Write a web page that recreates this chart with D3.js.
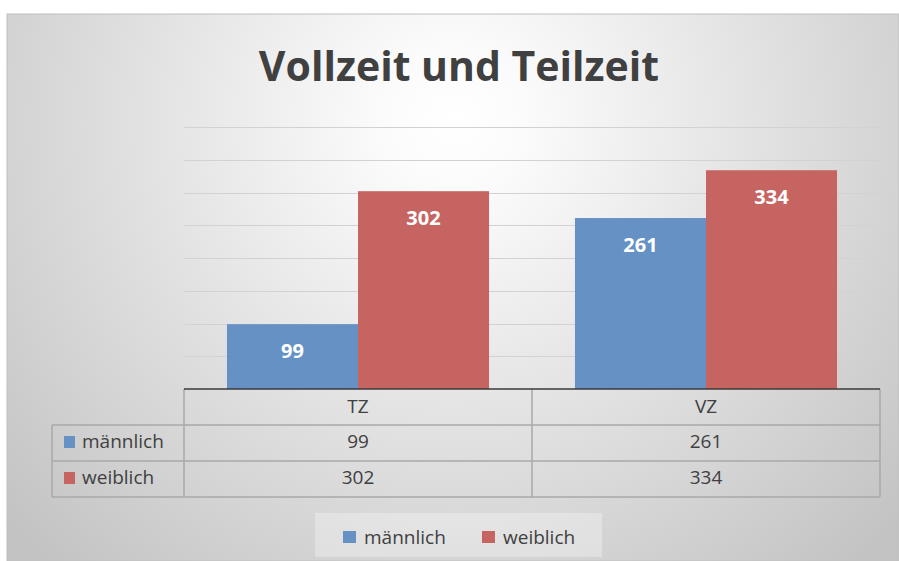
<!DOCTYPE html>
<html>
<head>
<meta charset="utf-8">
<script src="https://cdn.jsdelivr.net/npm/d3@7"></script>
<style>
  body { margin: 0; background: #fff; }
  text { font-family: "Open Sans", "DejaVu Sans", sans-serif; }
</style>
</head>
<body>
<div id="chart"></div>
<script>
// values
const categories = ["TZ", "VZ"];
const seriesNames = ["männlich", "weiblich"];
const maennlich = [99, 261];
const weiblich = [302, 334];
const yTicks = [0, 50, 100, 150, 200, 250, 300, 350, 400];

const width = 899;
const height = 561;

const colours = { "männlich": "#6591c5", "weiblich": "#c66462" };

// build rows from the arrays
const rows = seriesNames.map((s, i) => ({
    name: s,
    values: i === 0 ? maennlich : weiblich
}));

const svg = d3.select('#chart')
    .append('svg')
    .attr('width', width)
    .attr('height', height);

// background gradient like the office chart area
const defs = svg.append('defs');
const grad = defs.append('radialGradient')
    .attr('id', 'bg')
    .attr('gradientUnits', 'userSpaceOnUse')
    .attr('cx', 453).attr('cy', 120).attr('r', 600);
grad.append('stop').attr('offset', 0).attr('stop-color', '#ffffff');
grad.append('stop').attr('offset', 0.12).attr('stop-color', '#fbfbfb');
grad.append('stop').attr('offset', 1).attr('stop-color', '#c3c3c3');

svg.append('rect')
    .attr('x', 7).attr('y', 14)
    .attr('width', width - 7).attr('height', height - 14)
    .attr('fill', 'url(#bg)')
    .attr('stroke', '#c0c0c0')
    .attr('stroke-width', 1);

// scales
const plotLeft = 184, plotRight = 880;
const x = d3.scaleBand()
    .domain(categories)
    .range([plotLeft, plotRight])
    .padding(0);

const xInner = d3.scaleBand()
    .domain(seriesNames)
    .range([0, x.bandwidth()])
    .paddingInner(0)
    .paddingOuter(0.328);

const y = d3.scaleLinear()
    .domain([0, 400])
    .range([389, 127]);

// gridlines
svg.append('g')
    .selectAll('line')
    .data(yTicks.slice(1))
    .enter()
    .append('line')
    .attr('x1', plotLeft).attr('x2', plotRight)
    .attr('y1', d => Math.round(y(d)) + 0.5)
    .attr('y2', d => Math.round(y(d)) + 0.5)
    .attr('stroke', '#d2d2d2')
    .attr('stroke-width', 1.2);

// bars
const groups = svg.append('g')
    .selectAll('g')
    .data(categories)
    .enter()
    .append('g')
    .attr('transform', d => `translate(${x(d)},0)`);

groups.selectAll('rect')
    .data((c, ci) => rows.map(r => ({ name: r.name, value: r.values[ci] })))
    .enter()
    .append('rect')
    .attr('x', d => xInner(d.name))
    .attr('width', xInner.bandwidth())
    .attr('y', d => y(d.value))
    .attr('height', d => y(0) - y(d.value))
    .attr('fill', d => colours[d.name]);

groups.selectAll('text')
    .data((c, ci) => rows.map(r => ({ name: r.name, value: r.values[ci] })))
    .enter()
    .append('text')
    .attr('x', d => xInner(d.name) + xInner.bandwidth() / 2)
    .attr('y', d => y(d.value) + 34)
    .attr('text-anchor', 'middle')
    .style('font-size', '20px')
    .style('font-weight', 'bold')
    .attr('fill', '#ffffff')
    .text(d => d.value);

// data table under the axis
const tableLeft = 52;
const rowTop = [389, 425, 461, 497];
const lineCol = '#a8a8a8';
const table = svg.append('g');

// horizontal lines
table.append('line')
    .attr('x1', tableLeft).attr('x2', plotRight)
    .attr('y1', rowTop[1]).attr('y2', rowTop[1])
    .attr('stroke', lineCol).attr('stroke-width', 1.5);
table.append('line')
    .attr('x1', tableLeft).attr('x2', plotRight)
    .attr('y1', rowTop[2]).attr('y2', rowTop[2])
    .attr('stroke', lineCol).attr('stroke-width', 1.5);
table.append('line')
    .attr('x1', tableLeft).attr('x2', plotRight)
    .attr('y1', rowTop[3]).attr('y2', rowTop[3])
    .attr('stroke', lineCol).attr('stroke-width', 1.5);

// vertical lines
table.append('line')
    .attr('x1', tableLeft).attr('x2', tableLeft)
    .attr('y1', rowTop[1]).attr('y2', rowTop[3])
    .attr('stroke', lineCol).attr('stroke-width', 1.5);
table.selectAll('.vline')
    .data(categories.map(c => x(c)).concat([plotRight]))
    .enter()
    .append('line')
    .attr('class', 'vline')
    .attr('x1', d => d).attr('x2', d => d)
    .attr('y1', rowTop[0]).attr('y2', rowTop[3])
    .attr('stroke', lineCol).attr('stroke-width', 1.5);

// category header
table.selectAll('.cat')
    .data(categories)
    .enter()
    .append('text')
    .attr('class', 'cat')
    .attr('x', d => x(d) + x.bandwidth() / 2)
    .attr('y', 413)
    .attr('text-anchor', 'middle')
    .style('font-size', '19px')
    .attr('fill', '#404040')
    .text(d => d);

// value rows
rows.forEach((r, i) => {
    const base = rowTop[i + 1] + 23;
    table.append('rect')
        .attr('x', 64).attr('y', base - 12)
        .attr('width', 11).attr('height', 12)
        .attr('fill', colours[r.name]);
    table.append('text')
        .attr('x', 82).attr('y', base)
        .style('font-size', '19px')
        .attr('fill', '#404040')
        .text(r.name);
    table.selectAll('.v' + i)
        .data(r.values)
        .enter()
        .append('text')
        .attr('x', (d, ci) => x(categories[ci]) + x.bandwidth() / 2)
        .attr('y', base)
        .attr('text-anchor', 'middle')
        .style('font-size', '19px')
        .attr('fill', '#404040')
        .text(d => d);
});

// axis baseline
svg.append('line')
    .attr('x1', plotLeft).attr('x2', plotRight)
    .attr('y1', 389).attr('y2', 389)
    .attr('stroke', '#3a3a3a')
    .attr('stroke-width', 1.5);

// title
svg.append('text')
    .attr('x', 459)
    .attr('y', 81)
    .attr('text-anchor', 'middle')
    .style('font-size', '41px')
    .style('font-weight', 'bold')
    .attr('fill', '#404040')
    .text('Vollzeit und Teilzeit');

// legend
const legend = svg.append('g');
legend.append('rect')
    .attr('x', 315).attr('y', 513)
    .attr('width', 287).attr('height', 44)
    .attr('fill', '#ffffff')
    .attr('fill-opacity', 0.3);

const legendX = [343, 482];
seriesNames.forEach((s, i) => {
    legend.append('rect')
        .attr('x', legendX[i]).attr('y', 531)
        .attr('width', 13).attr('height', 12)
        .attr('fill', colours[s]);
    legend.append('text')
        .attr('x', legendX[i] + 21)
        .attr('y', 544)
        .style('font-size', '19px')
        .attr('fill', '#404040')
        .text(s);
});
</script>
</body>
</html>
